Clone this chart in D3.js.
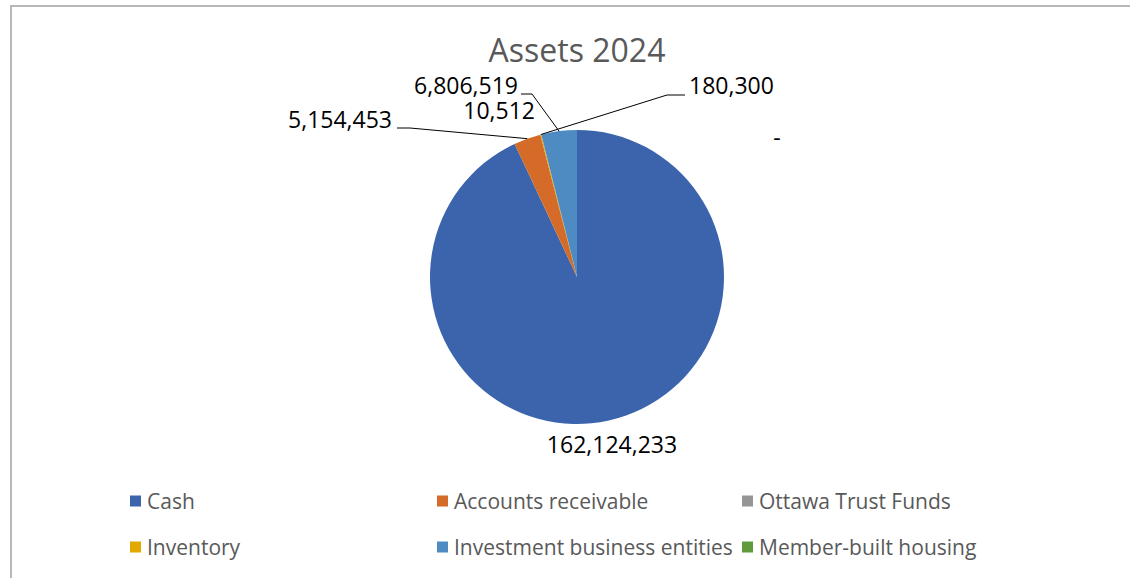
<!DOCTYPE html>
<html>
<head>
<meta charset="utf-8">
<script src="https://cdn.jsdelivr.net/npm/d3@7"></script>
<style>
  html, body { margin: 0; padding: 0; background: #fff; }
  svg { display: block; font-family: "Open Sans", "Liberation Sans", sans-serif; }
</style>
</head>
<body>
<svg id="chart" width="1130" height="578"></svg>
<script>
// ---- data ----
const title = "Assets 2024";
const categories = ["Cash", "Accounts receivable", "Ottawa Trust Funds", "Inventory", "Investment business entities", "Member-built housing"];
const values = [162124233, 5154453, 10512, 180300, 6806519, 0];
const valueLabels = ["162,124,233", "5,154,453", "10,512", "180,300", "6,806,519", "-"];

// ---- styling / layout (not data) ----
const colors = ["#3b64ad", "#d46b28", "#959595", "#e2a900", "#4e8bc2", "#5f9b3d"];
const W = 1130, H = 578;
const cx = 577, cy = 277, R = 147;
// label placement: text anchor point, anchor mode, optional leader elbow (start, elbow)
const labelLayout = [
  { x: 612, y: 453, anchor: "middle" },
  { x: 392, y: 128, anchor: "end",   leader: [[397, 128], [410, 128]] },
  { x: 535, y: 119, anchor: "end" },
  { x: 689, y: 94,  anchor: "start", leader: [[685, 95], [667, 95]] },
  { x: 518, y: 94,  anchor: "end",   leader: [[521, 94], [532, 94]] },
  { x: 777, y: 146, anchor: "middle" }
];
const legendCols = [130, 437, 742];
const legendRows = [501, 547];

const svg = d3.select("#chart");

// chart border (top + left visible)
svg.append("rect")
  .attr("x", 11).attr("y", 6)
  .attr("width", W + 20).attr("height", H + 20)
  .attr("fill", "none").attr("stroke", "#b8b8b8").attr("stroke-width", 2);

// title
svg.append("text")
  .attr("x", cx).attr("y", 62)
  .attr("text-anchor", "middle")
  .attr("font-size", 32)
  .attr("fill", "#595959")
  .text(title);

const data = categories.map((c, i) => ({ name: c, value: values[i], label: valueLabels[i], color: colors[i], layout: labelLayout[i] }));

const pie = d3.pie().sort(null).value(d => d.value);
const arcs = pie(data);
const arc = d3.arc().innerRadius(0).outerRadius(R);
const edgeArc = d3.arc().innerRadius(R).outerRadius(R);

const g = svg.append("g").attr("transform", `translate(${cx},${cy})`);
g.selectAll("path.slice")
  .data(arcs)
  .join("path")
  .attr("class", "slice")
  .attr("d", arc)
  .attr("fill", d => d.data.color);

// leader lines
const line = d3.line();
arcs.forEach(a => {
  const L = a.data.layout;
  if (!L.leader) return;
  const p = edgeArc.centroid(a);
  const pts = [L.leader[0], L.leader[1], [cx + p[0], cy + p[1]]];
  svg.append("path")
    .attr("d", line(pts))
    .attr("fill", "none")
    .attr("stroke", "#000")
    .attr("stroke-width", 1);
});

// data labels
svg.selectAll("text.dlabel")
  .data(arcs)
  .join("text")
  .attr("class", "dlabel")
  .attr("x", d => d.data.layout.x)
  .attr("y", d => d.data.layout.y)
  .attr("text-anchor", d => d.data.layout.anchor)
  .attr("font-size", 23)
  .attr("fill", "#000")
  .text(d => d.data.label);

// legend
const leg = svg.append("g");
data.forEach((d, i) => {
  const col = i % 3, row = Math.floor(i / 3);
  const x = legendCols[col], y = legendRows[row];
  leg.append("rect")
    .attr("x", x).attr("y", y - 5.5)
    .attr("width", 11).attr("height", 11)
    .attr("fill", d.color);
  leg.append("text")
    .attr("x", x + 17).attr("y", y)
    .attr("dominant-baseline", "central")
    .attr("font-size", 21)
    .attr("fill", "#595959")
    .text(d.name);
});
</script>
</body>
</html>
